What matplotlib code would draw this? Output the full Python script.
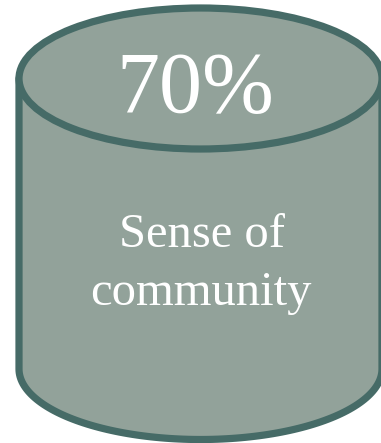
import numpy as np
import matplotlib
matplotlib.use("Agg")
import matplotlib.pyplot as plt
from matplotlib.patches import Ellipse, PathPatch
from matplotlib.path import Path

# value shown on the drum and its caption
percent_value = 70
caption_lines = ["Sense of", "community"]

FILL = "#92a29a"
EDGE = "#466b67"

W, H = 381, 443
fig = plt.figure(figsize=(W / 100, H / 100), dpi=100)
ax = fig.add_axes([0, 0, 1, 1])
ax.set_xlim(0, W)
ax.set_ylim(H, 0)
ax.axis("off")

cx, rx, ry = 200.5, 181.5, 70.5
top_y, bottom_y = 78.5, 369.0

# body: left side, lower half of bottom ellipse, right side
t = np.linspace(np.pi, 0, 120)
arc = np.column_stack([cx + rx * np.cos(t), bottom_y + ry * np.sin(t)])
verts = np.vstack([[cx - rx, top_y], arc, [cx + rx, top_y]])
body = PathPatch(Path(verts), facecolor=FILL, edgecolor=EDGE, lw=5.2,
                 joinstyle="round", capstyle="round")
ax.add_patch(body)

top = Ellipse((cx, top_y), 2 * rx, 2 * ry, facecolor=FILL, edgecolor=EDGE, lw=5.2)
ax.add_patch(top)

serif = "Liberation Serif"
ax.text(195, 112, f"{percent_value}%", fontsize=62, color="white",
        family=serif, ha="center", va="baseline")
ax.text(202, 247, caption_lines[0], fontsize=35, color="white",
        family=serif, ha="center", va="baseline")
ax.text(201, 305, caption_lines[1], fontsize=35, color="white",
        family=serif, ha="center", va="baseline")

fig.savefig("out.png", dpi=100, facecolor="white")
